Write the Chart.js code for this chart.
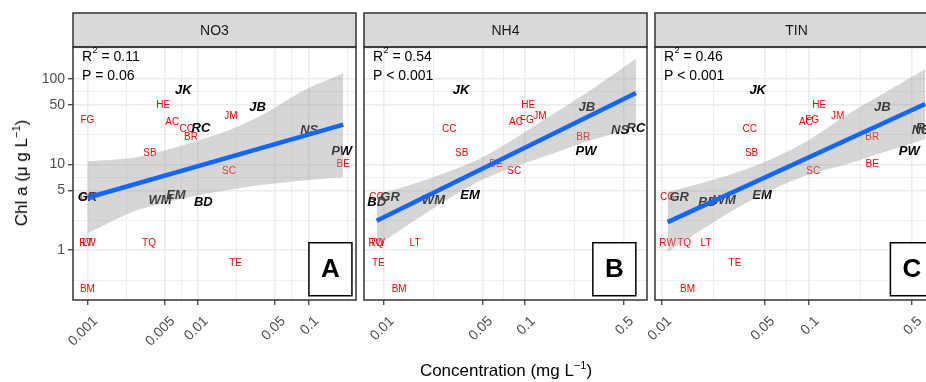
<!DOCTYPE html>
<html>
<head>
<meta charset="utf-8">
<script src="https://cdn.jsdelivr.net/npm/chart.js@4.4.1/dist/chart.umd.min.js"></script>
<style>
body { margin: 0; width: 926px; height: 382px; overflow: hidden; position: relative; background: #fff; font-family: 'Liberation Sans', Arial, sans-serif; }
canvas { position: absolute; top: 0; }
#c1 { left: 0; }
#c2 { left: 330px; }
#c3 { left: 620px; }
.title { position: absolute; font-size: 17px; color: #000; white-space: nowrap; }
.title span { font-size: 11px; position: relative; top: -7px; }
#ytitle { left: 22px; top: 173px; transform: translate(-50%, -50%) rotate(-90deg); }
#xtitle { left: 506px; top: 371px; transform: translate(-50%, -50%); }
</style>
</head>
<body>
<canvas id="c1" width="360" height="382"></canvas>
<canvas id="c2" width="320" height="382"></canvas>
<canvas id="c3" width="330" height="382"></canvas>
<div class="title" id="ytitle">Chl a (μ g L<span>−1</span>)</div>
<div class="title" id="xtitle">Concentration (mg L<span>−1</span>)</div>
<script>
const fam = "'Liberation Sans', Arial, sans-serif";
Chart.defaults.font.family = fam;

// sites and their values
const sites = ['JK', 'HE', 'FG', 'AC', 'CC', 'RC', 'BR', 'JM', 'JB', 'NS', 'PW', 'BE', 'SB', 'SC', 'GR', 'CG', 'WM', 'EM', 'BD', 'RW', 'LT', 'TQ', 'TE', 'BM'];
const bigSites = ['JK', 'RC', 'JB', 'NS', 'PW', 'GR', 'WM', 'EM', 'BD'];
const chla = [73.9, 49, 33.2, 31.2, 26.0, 26.7, 20.8, 37.1, 46.4, 25.3, 14.4, 10.1, 13.7, 8.36, 4.1, 4.1, 3.8, 4.36, 3.6, 1.22, 1.22, 1.22, 0.70, 0.352];
const no3 = [0.00736, 0.00485, 0.001, 0.00585, 0.00791, 0.01064, 0.00865, 0.0199, 0.0347, 0.1016, 0.1995, 0.2065, 0.00368, 0.0191, 0.001, 0.001, 0.00453, 0.00632, 0.01117, 0.001, 0.001, 0.00361, 0.0219, 0.001];
const nh4 = [0.0352, 0.1054, 0.1028, 0.0863, 0.0290, 0.612, 0.259, 0.1276, 0.274, 0.472, 0.271, 0.0622, 0.0356, 0.0839, 0.01103, 0.00887, 0.0224, 0.0407, 0.00887, 0.00887, 0.0166, 0.00887, 0.00912, 0.0128];
const tin = [0.0449, 0.1175, 0.1052, 0.0955, 0.0397, 0.615, 0.269, 0.1567, 0.315, 0.574, 0.480, 0.269, 0.0408, 0.1069, 0.01317, 0.01098, 0.0266, 0.0480, 0.0205, 0.01098, 0.0200, 0.01422, 0.0315, 0.0150];

const panelNames = ['NO3', 'NH4', 'TIN'];
const r2 = ['0.11', '0.54', '0.46'];
const pText = ['= 0.06', '< 0.001', '< 0.001'];
const letters = ['A', 'B', 'C'];
const letterX = [0.158, 0.43, 0.5];
const letterY = 0.6;

const yTicks = [1, 5, 10, 50, 100];
const yMinor = [0.447, 2.236, 7.071, 22.36, 70.71, 223.6];
const xTicks1 = [0.001, 0.005, 0.01, 0.05, 0.1];
const xMinor1 = [0.002236, 0.007071, 0.02236, 0.07071, 0.2236];
const xTicks2 = [0.01, 0.05, 0.1, 0.5];
const xMinor2 = [0.02236, 0.07071, 0.2236];

// fitted lines and confidence bands
const fitX1 = [0.001, 0.2065], fitY1 = [4.10, 29.2];
const fitX2 = [0.00887, 0.612], fitY2 = [2.21, 68.5];
const fitX3 = [0.01098, 0.615], fitY3 = [2.13, 50.8];
const bandX1 = [0.001, 0.002805, 0.005585, 0.01, 0.02254, 0.04487, 0.08913, 0.2065];
const bandLo1 = [1.58, 2.92, 3.71, 4.36, 5.26, 5.93, 6.51, 7.12];
const bandHi1 = [10.9, 12.2, 15.2, 19.0, 27.7, 42.5, 72.5, 116.5];
const bandX2 = [0.00887, 0.01585, 0.02818, 0.05012, 0.08913, 0.1585, 0.2818, 0.612];
const bandLo2 = [1.11, 2.13, 3.91, 6.68, 9.73, 13.5, 18.8, 27.3];
const bandHi2 = [4.42, 5.87, 8.17, 12.2, 21.3, 38.9, 71.3, 172];
const bandX3 = [0.01098, 0.01778, 0.03162, 0.05623, 0.1, 0.1778, 0.3162, 0.615];
const bandLo3 = [0.953, 1.64, 3.03, 5.11, 7.67, 10.0, 13.8, 19.8];
const bandHi3 = [4.78, 5.94, 7.96, 11.7, 19.3, 37.3, 66.5, 130];

const decor = {
  id: 'decor',
  beforeDatasetsDraw(chart) {
    const ctx = chart.ctx, a = chart.chartArea;
    const meta = chart.getDatasetMeta(0);
    ctx.save();
    ctx.beginPath();
    ctx.rect(a.left, a.top, a.right - a.left, a.bottom - a.top);
    ctx.clip();
    ctx.textAlign = 'center';
    ctx.textBaseline = 'middle';
    // red names first, the bold ones go over them
    [false, true].forEach(big => {
      meta.data.forEach((pt, i) => {
        if (bigSites.includes(sites[i]) !== big) return;
        ctx.font = big ? 'italic bold 13px ' + fam : '10px ' + fam;
        ctx.fillStyle = big ? '#000000' : '#ff0000';
        ctx.fillText(sites[i], pt.x, pt.y);
      });
    });
    ctx.restore();
  },
  afterDraw(chart, args, opts) {
    const ctx = chart.ctx, a = chart.chartArea, w = a.right - a.left;
    const k = opts.k;
    ctx.save();
    ctx.fillStyle = '#d9d9d9';
    ctx.fillRect(a.left, 13, w, a.top - 13);
    ctx.strokeStyle = '#333333';
    ctx.lineWidth = 1.5;
    ctx.strokeRect(a.left, 13, w, a.top - 13);
    ctx.strokeRect(a.left, a.top, w, a.bottom - a.top);
    ctx.fillStyle = '#1a1a1a';
    ctx.font = '14px ' + fam;
    ctx.textAlign = 'center';
    ctx.textBaseline = 'middle';
    ctx.fillText(panelNames[k], a.left + w / 2, (13 + a.top) / 2 + 1);

    ctx.textAlign = 'left';
    ctx.fillStyle = '#000';
    let x = a.left + 9;
    ctx.fillText('R', x, a.top + 10);
    x += ctx.measureText('R').width + 0.5;
    ctx.font = '9px ' + fam;
    ctx.fillText('2', x, a.top + 4);
    x += ctx.measureText('2').width;
    ctx.font = '14px ' + fam;
    ctx.fillText(' = ' + r2[k], x, a.top + 10);
    ctx.fillText('P ' + pText[k], a.left + 9, a.top + 29);

    const bx = chart.scales.x.getPixelForValue(letterX[k]);
    const by = chart.scales.y.getPixelForValue(letterY);
    ctx.fillStyle = '#fff';
    ctx.fillRect(bx - 21.5, by - 26.5, 43, 53);
    ctx.strokeStyle = '#000';
    ctx.lineWidth = 1.5;
    ctx.strokeRect(bx - 21.5, by - 26.5, 43, 53);
    ctx.fillStyle = '#000';
    ctx.font = 'bold 26px ' + fam;
    ctx.textAlign = 'center';
    ctx.fillText(letters[k], bx, by + 1);
    ctx.restore();
  }
};

function xy(xs, ys) {
  return xs.map((v, i) => ({ x: v, y: ys[i] }));
}

function makePanel(k, id, conc, xRange, xt, xm, bandX, bandLo, bandHi, fitX, fitY, padL, padR) {
  const first = k === 0;
  new Chart(document.getElementById(id), {
    type: 'scatter',
    data: {
      datasets: [
        { data: xy(conc, chla), pointRadius: 0, order: 3 },
        { data: xy(bandX, bandHi), showLine: true, pointRadius: 0, borderWidth: 0, borderColor: 'rgba(0,0,0,0)',
          fill: '+1', backgroundColor: 'rgba(153,153,153,0.4)', cubicInterpolationMode: 'monotone', order: 2 },
        { data: xy(bandX, bandLo), showLine: true, pointRadius: 0, borderWidth: 0, borderColor: 'rgba(0,0,0,0)',
          cubicInterpolationMode: 'monotone', order: 2 },
        { data: xy(fitX, fitY), showLine: true, pointRadius: 0, borderColor: '#1466ff', borderWidth: 4.5, order: 1 }
      ]
    },
    options: {
      responsive: false,
      animation: false,
      devicePixelRatio: 1,
      layout: { padding: { left: padL, right: padR, top: 47, bottom: 0 } },
      plugins: { legend: { display: false }, tooltip: { enabled: false }, decor: { k: k } },
      scales: {
        x: {
          type: 'logarithmic', min: xRange[0], max: xRange[1], bounds: 'data',
          afterBuildTicks: s => { s.ticks = xt.concat(xm).sort((a, b) => a - b).map(v => ({ value: v })); },
          afterFit: s => { s.height = 82; s.paddingLeft = 0; s.paddingRight = 0; },
          ticks: { autoSkip: false, minRotation: 45, maxRotation: 45, labelOffset: 8, padding: 8,
            color: '#4d4d4d', font: { size: 14 }, callback: v => xt.includes(v) ? String(v) : '' },
          grid: { color: '#ebebeb', lineWidth: c => (c.tick && xt.includes(c.tick.value)) ? 1.5 : 0.8,
            tickLength: 5, tickWidth: 1.2,
            tickColor: c => (c.tick && xt.includes(c.tick.value)) ? '#333333' : 'rgba(0,0,0,0)' },
          border: { display: false }
        },
        y: {
          type: 'logarithmic', min: 0.2624, max: 235.5, bounds: 'data',
          afterBuildTicks: s => { s.ticks = yTicks.concat(yMinor).sort((a, b) => a - b).map(v => ({ value: v })); },
          afterFit: s => { s.width = first ? 73 : 0; s.paddingTop = 0; s.paddingBottom = 0; },
          ticks: { display: first, autoSkip: false, padding: 3, color: '#4d4d4d', font: { size: 14 },
            callback: v => yTicks.includes(v) ? String(v) : '' },
          grid: { color: '#ebebeb', lineWidth: c => (c.tick && yTicks.includes(c.tick.value)) ? 1.5 : 0.8,
            drawTicks: first, tickLength: 5, tickWidth: 1.2,
            tickColor: c => (c.tick && yTicks.includes(c.tick.value)) ? '#333333' : 'rgba(0,0,0,0)' },
          border: { display: false }
        }
      }
    },
    plugins: [decor]
  });
}

makePanel(0, 'c1', no3, [0.00074, 0.2692], xTicks1, xMinor1, bandX1, bandLo1, bandHi1, fitX1, fitY1, 0, 4);
makePanel(1, 'c2', nh4, [0.00721, 0.733], xTicks2, xMinor2, bandX2, bandLo2, bandHi2, fitX2, fitY2, 34, 3);
makePanel(2, 'c3', tin, [0.00902, 0.752], xTicks2, xMinor2, bandX3, bandLo3, bandHi3, fitX3, fitY3, 35, 12);
</script>
</body>
</html>
